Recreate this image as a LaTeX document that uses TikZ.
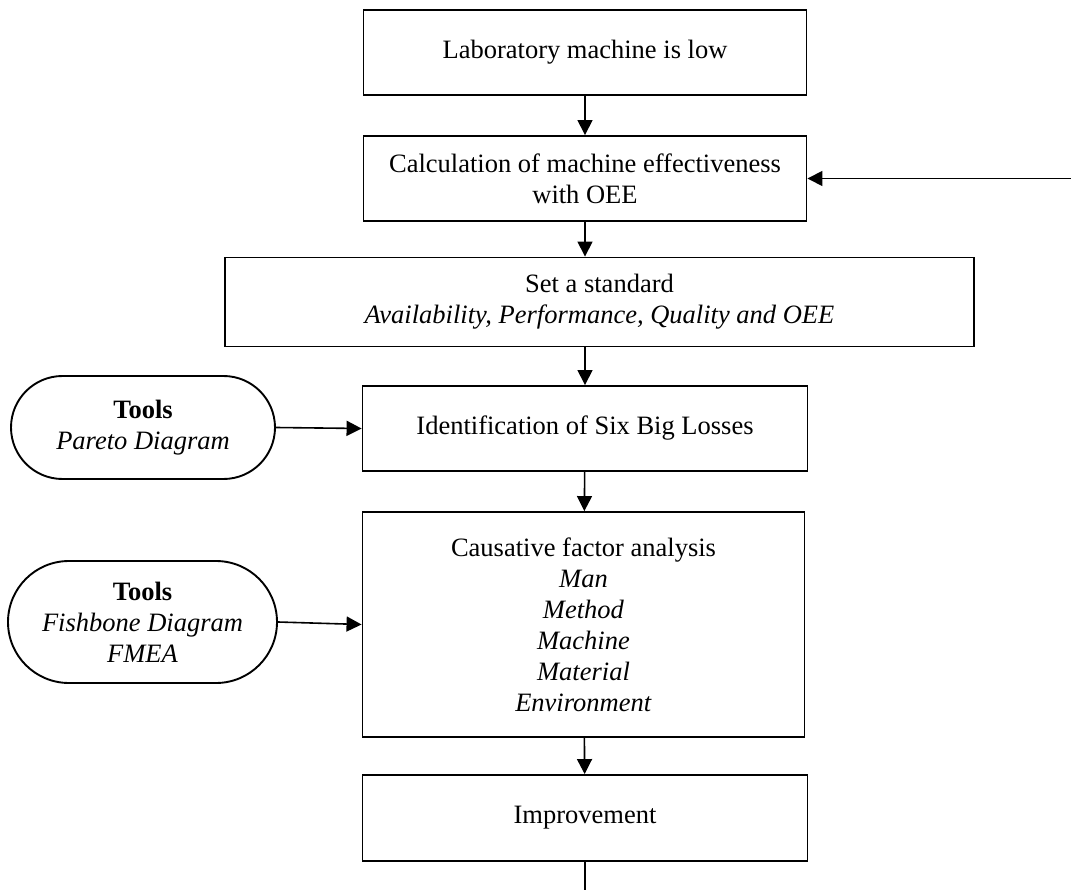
\documentclass[tikz,border=0pt]{standalone}
\usepackage{fontspec}
\setmainfont{Liberation Serif}
\usetikzlibrary{arrows.meta}
\begin{document}
\begin{tikzpicture}[x=1pt,y=-1pt,
  every node/.style={font=\fontsize{26.5}{31}\selectfont, align=center, inner sep=0pt},
  box/.style={draw, line width=1.9pt, fill=white},
  pill/.style={draw, line width=1.9pt, fill=white},
  flow/.style={line width=1.6pt, -{Triangle[length=15pt,width=15pt]}}]
\useasboundingbox (0,0) rectangle (1071,890);
\node[box, minimum width=443pt, minimum height=85pt] (b1) at (585,52.5) {Laboratory machine is low};
\node[box, minimum width=443pt, minimum height=85pt] (b2) at (585,178.5) {Calculation of machine effectiveness\\with OEE};
\node[box, minimum width=749pt, minimum height=89pt] (b3) at (599.5,302) {Set a standard\\\textit{Availability, Performance, Quality and OEE}};
\node[box, minimum width=445pt, minimum height=85pt] (b4) at (585,428.5) {Identification of Six Big Losses};
\node[box, minimum width=442pt, minimum height=225pt] (b5) at (583.5,624.5) {Causative factor analysis\\\textit{Man}\\\textit{Method}\\\textit{Machine}\\\textit{Material}\\\textit{Environment}};
\node[box, minimum width=445pt, minimum height=86pt] (b6) at (585,818) {Improvement};
\node[pill, rounded corners=51.5pt, minimum width=264pt, minimum height=103pt] (t1) at (143,427.5) {\textbf{Tools}\\\textit{Pareto Diagram}};
\node[pill, rounded corners=61pt, minimum width=269pt, minimum height=122pt] (t2) at (142.5,622) {\textbf{Tools}\\\textit{Fishbone Diagram}\\\textit{FMEA}};
\coordinate (fb) at (1071,178.5);
\coordinate (end) at (585,890);
\draw[flow] (b1) -- (b2);
\draw[flow] (b2) -- (b2.south |- b3.north);
\draw[flow] (b4.north |- b3.south) -- (b4);
\draw[flow] (b4) -- (b5);
\draw[flow] (b5) -- (b6);
\draw[flow] (fb) -- (b2.east);
\draw[flow] (t1.east) -- (b4.west);
\draw[flow] (t2.east) -- (b5.west);
\draw[line width=1.6pt] (b6.south) -- (end);
\end{tikzpicture}
\end{document}
